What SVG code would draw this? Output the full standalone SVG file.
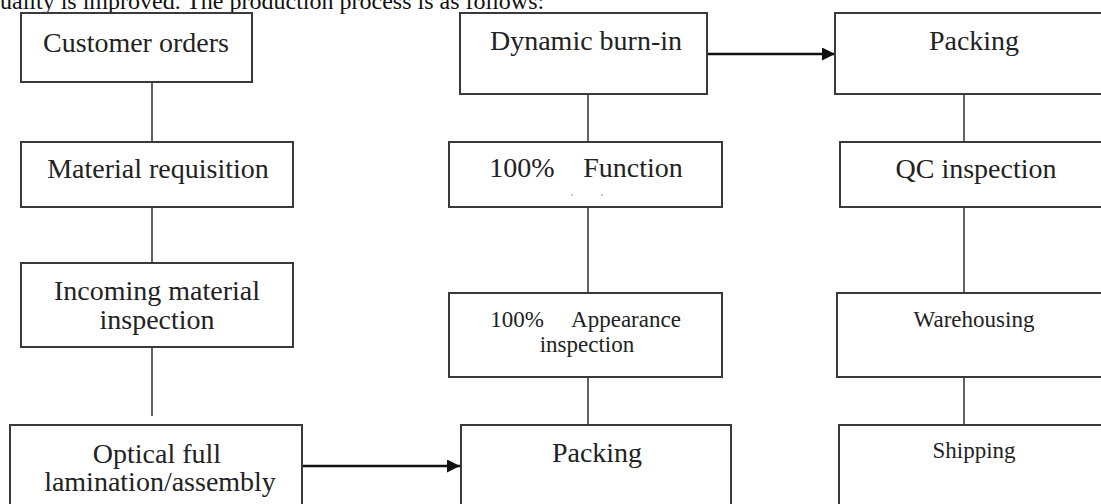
<svg xmlns="http://www.w3.org/2000/svg" width="1101" height="504" viewBox="0 0 1101 504">
  <style>
    .box { fill: #ffffff; stroke: #3a3a3a; stroke-width: 2; }
    .link { fill: none; stroke: #3a3a3a; stroke-width: 1.6; }
    .flow { fill: none; stroke: #111111; stroke-width: 2.6; }
    .lbl { font-family: "Liberation Serif", "Times New Roman", serif; font-size: 28px; fill: #222222; text-anchor: middle; }
    .sm { font-size: 23px; }
    .body { font-family: "Liberation Serif", "Times New Roman", serif; font-size: 24px; fill: #111111; }
  </style>
  <defs>
    <marker id="arrow" viewBox="0 0 10 10" refX="10" refY="5" markerWidth="5" markerHeight="5" markerUnits="strokeWidth" orient="auto">
      <path d="M0,0 L10,5 L0,10 z" fill="#111111"/>
    </marker>
  </defs>
  <rect width="1101" height="504" fill="#ffffff"/>

  <!-- running text above the chart -->
  <text class="body" x="0" y="9">uality is improved. The production process is as follows:</text>

  <!-- connectors -->
  <g id="connectors">
    <line class="link" x1="152" y1="82" x2="152" y2="142"/>
    <line class="link" x1="152" y1="207" x2="152" y2="263"/>
    <line class="link" x1="152" y1="347" x2="152" y2="416"/>
    <line class="flow" x1="302" y1="466" x2="460" y2="466" marker-end="url(#arrow)"/>
    <line class="link" x1="588" y1="94" x2="588" y2="142"/>
    <line class="link" x1="588" y1="207" x2="588" y2="293"/>
    <line class="link" x1="588" y1="377" x2="588" y2="425"/>
    <line class="flow" x1="707" y1="54" x2="835" y2="54" marker-end="url(#arrow)"/>
    <line class="link" x1="964" y1="94" x2="964" y2="142"/>
    <line class="link" x1="964" y1="207" x2="964" y2="293"/>
    <line class="link" x1="964" y1="377" x2="964" y2="425"/>
  </g>

  <!-- column 1 -->
  <g id="customer-orders">
    <rect class="box" x="21" y="13" width="231" height="69"/>
    <text class="lbl" x="136" y="52">Customer orders</text>
  </g>
  <g id="material-requisition">
    <rect class="box" x="21" y="142" width="272" height="65"/>
    <text class="lbl" x="158" y="178">Material requisition</text>
  </g>
  <g id="incoming-inspection">
    <rect class="box" x="21" y="263" width="272" height="84"/>
    <text class="lbl" x="157" y="300">Incoming material</text>
    <text class="lbl" x="157" y="329">inspection</text>
  </g>
  <g id="optical-lamination">
    <rect class="box" x="10" y="425" width="292" height="100"/>
    <text class="lbl" x="157" y="463">Optical full</text>
    <text class="lbl" x="160" y="491">lamination/assembly</text>
  </g>

  <!-- column 2 -->
  <g id="dynamic-burn-in">
    <rect class="box" x="460" y="13" width="247" height="81"/>
    <text class="lbl" x="586" y="50">Dynamic burn-in</text>
  </g>
  <g id="function-test">
    <rect class="box" x="449" y="142" width="273" height="65"/>
    <text class="lbl" x="522" y="177">100%</text>
    <text class="lbl" x="633" y="177">Function</text>
    <circle cx="572" cy="195" r="0.8" fill="#8a8a8a"/>
    <circle cx="602" cy="195" r="0.8" fill="#8a8a8a"/>
  </g>
  <g id="appearance-inspection">
    <rect class="box" x="449" y="293" width="273" height="84"/>
    <text class="lbl sm" x="517" y="327">100%</text>
    <text class="lbl sm" x="626" y="327">Appearance</text>
    <text class="lbl sm" x="587" y="352">inspection</text>
  </g>
  <g id="packing-1">
    <rect class="box" x="461" y="425" width="270" height="100"/>
    <text class="lbl" x="597" y="462">Packing</text>
  </g>

  <!-- column 3 -->
  <g id="packing-2">
    <rect class="box" x="835" y="13" width="290" height="81"/>
    <text class="lbl" x="974" y="50">Packing</text>
  </g>
  <g id="qc-inspection">
    <rect class="box" x="840" y="142" width="285" height="65"/>
    <text class="lbl" x="976" y="178">QC inspection</text>
  </g>
  <g id="warehousing">
    <rect class="box" x="837" y="293" width="288" height="84"/>
    <text class="lbl sm" x="974" y="327">Warehousing</text>
  </g>
  <g id="shipping">
    <rect class="box" x="839" y="425" width="286" height="100"/>
    <text class="lbl sm" x="974" y="458">Shipping</text>
  </g>
</svg>
